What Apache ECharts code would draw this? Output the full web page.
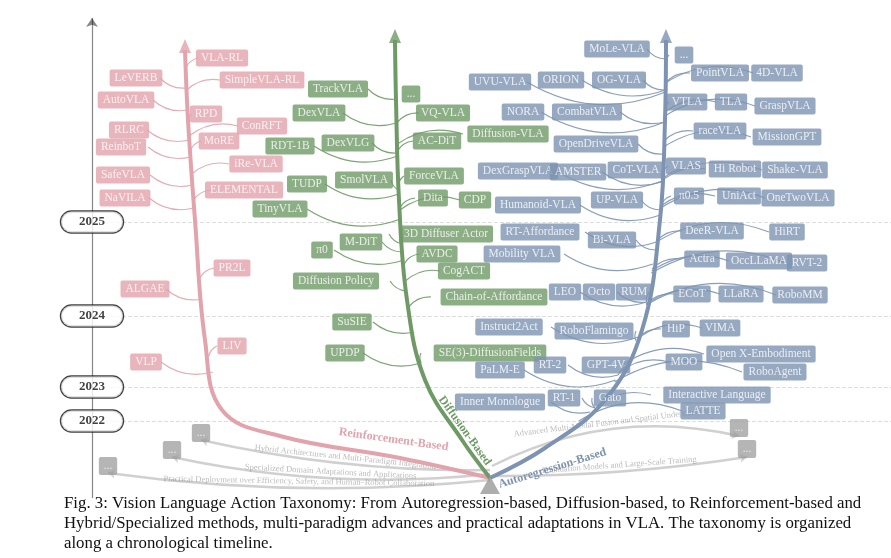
<!DOCTYPE html>
<html><head><meta charset="utf-8">
<script src="https://cdn.jsdelivr.net/npm/echarts@6/dist/echarts.min.js"></script>
<style>body{margin:0;background:#fff}#c{width:891px;height:558px}</style>
</head><body><div id="c"></div>
<script>
// boxes: [name, x, y]
var rlBoxes = [['VLA-RL',222,58],['LeVERB',136,78],['SimpleVLA-RL',262,80],['AutoVLA',126,100],['RPD',206,114],
  ['RLRC',129,130],['ConRFT',262,126],['MoRE',219,141],['ReinboT',121,147],['iRe-VLA',256,164],['SafeVLA',123,175],
  ['NaVILA',125,198],['ELEMENTAL',244,190],['PR2L',232,268],['ALGAE',145,289],['VLP',146,362],['LIV',232,346]];
var diffBoxes = [['TrackVLA',338,89],['DexVLA',319,113],['RDT-1B',290,146],['DexVLG',348,143],['TUDP',307,184],
  ['SmolVLA',364,180],['TinyVLA',280,209],['...',411,94],['VQ-VLA',443,113],['AC-DiT',437,141],['Diffusion-VLA',508,134],
  ['ForceVLA',434,176],['Dita',433,198],['CDP',475,200],['3D Diffuser Actor',446,234],['M-DiT',361,242],['π0',322,250],
  ['AVDC',437,254],['Diffusion Policy',336,281],['CogACT',464,271],['Chain-of-Affordance',494,297],['SuSIE',352,322],
  ['UPDP',345,353],['SE(3)-DiffusionFields',490,353]];
var arBoxes = [['MoLe-VLA',617,49],['...',684,55],['UVU-VLA',500,82],['ORION',561,80],['OG-VLA',619,80],['PointVLA',720,73],
  ['4D-VLA',777,73],['NORA',523,112],['CombatVLA',587,112],['VTLA',687,102],['TLA',731,102],['GraspVLA',785,106],
  ['OpenDriveVLA',596,144],['raceVLA',720,131],['MissionGPT',787,137],['DexGraspVLA',518,171],['AMSTER',578,172],
  ['CoT-VLA',636,170],['VLAS',686,166],['Hi Robot',735,169],['Shake-VLA',795,170],['Humanoid-VLA',538,205],['UP-VLA',617,200],
  ['π0.5',689,196],['UniAct',739,196],['OneTwoVLA',798,198],['RT-Affordance',540,232],['Bi-VLA',612,240],['DeeR-VLA',712,231],
  ['HiRT',787,232],['Mobility VLA',522,254],['Actra',702,259],['OccLLaMA',759,261],['RVT-2',807,263],['LEO',565,292],
  ['Octo',599,292],['RUM',634,292],['ECoT',692,294],['LLaRA',741,294],['RoboMM',800,295],['Instruct2Act',509,327],
  ['RoboFlamingo',594,331],['HiP',676,329],['VIMA',720,328],['MOO',684,362],['Open X-Embodiment',761,354],['RoboAgent',775,372],
  ['PaLM-E',500,370],['RT-2',550,365],['GPT-4V',606,365],['Inner Monologue',500,402],['RT-1',564,398],['Gato',610,398],
  ['Interactive Language',717,395],['LATTE',703,411]];
var grayBoxes = [[201,433],[172,450],[108,466],[739,428],[747,449]];
var years = [['2025',222],['2024',316],['2023',387],['2022',421]];
// trunk paths
var rlTrunk = [[490,478],[400,458],[280,436],[222,410],[205,340],[195,220],[188,120],[185,50]];
var diffTrunk = [[490,478],[462,440],[425,380],[407,300],[399,200],[396,100],[395,40]];
var arTrunk = [[490,478],[545,448],[605,400],[642,330],[660,220],[665,120],[666,40]];
var grayPaths = [
  ['Hybrid Architectures and Multi-Paradigm Integration',[490,470],[201,440],0.06],
  ['Specialized Domain Adaptations and Applications',[490,474],[172,457],0.08],
  ['Practical Deployment over Efficiency, Safety, and Human–Robot Collaboration',[490,480],[108,473],0.06],
  ['Advanced Multi-Modal Fusion and Spatial Understanding',[492,466],[739,436],0.18],
  ['Foundation Models and Large-Scale Training',[492,476],[747,457],-0.04]];

var RL = '#e2a3ad', DF = '#6f9a66', AR = '#7d93b1', GR = '#a2a2a2';

function trunkX(path, y) {
  for (var i = 0; i < path.length - 1; i++) {
    var a = path[i], b = path[i+1];
    if (y <= a[1] && y >= b[1]) return a[0] + (b[0]-a[0]) * (a[1]-y) / (a[1]-b[1]);
  }
  return path[path.length-1][0];
}
function boxSeries(list, color) {
  return {type:'scatter', symbolSize:0, z:5, data:list.map(function(b){return {value:[b[1],b[2]], name:b[0]};}),
    label:{show:true, formatter:'{b}', color:'#fff', fontFamily:'Liberation Serif', fontSize:11.5,
      backgroundColor:color, padding:[3,5,2,5], borderRadius:2}};
}
function branchSeries(list, path, color) {
  var d = list.map(function(b){
    var tx = trunkX(path, b[2] + 10), hw = b[0].length * 3 + 6;
    var ex = b[1] < tx ? b[1] + hw : b[1] - hw;
    return {coords:[[tx, b[2] + 10],[ex, b[2]]]};
  });
  return {type:'lines', coordinateSystem:'cartesian2d', z:2, data:d,
    lineStyle:{color:color, width:1.2, curveness:0.25, opacity:0.9}};
}
function trunk(path, color) {
  return {type:'line', smooth:0.4, symbol:'none', data:path, z:3, lineStyle:{color:color, width:4}};
}
function arrowHead(path, color) {
  var p = path[path.length-1];
  return {type:'scatter', symbol:'triangle', symbolSize:[12,14], z:4, data:[[p[0], p[1]-4]], itemStyle:{color:color}};
}

var series = [
  {type:'lines', coordinateSystem:'cartesian2d', z:1,
    data:years.map(function(y){return {coords:[[92,y[1]],[891,y[1]]]};}),
    lineStyle:{color:'#bbb', type:'dashed', width:1}},
  {type:'lines', coordinateSystem:'cartesian2d', z:1, symbol:['none','arrow'], symbolSize:9,
    data:[{coords:[[92,498],[92,18]]}], lineStyle:{color:'#111', width:1.2}},
  {type:'scatter', symbolSize:0, z:6, data:years.map(function(y){return {value:[92,y[1]], name:y[0]};}),
    label:{show:true, formatter:'{b}', color:'#111', fontWeight:'bold', fontFamily:'Liberation Serif', fontSize:13,
      backgroundColor:'#fff', borderColor:'#111', borderWidth:1.2, borderRadius:11, padding:[4,18,4,18]}},
  {type:'lines', coordinateSystem:'cartesian2d', z:2, symbol:['none','arrow'], symbolSize:7,
    data:grayPaths.map(function(g){return {coords:[g[1],g[2]], name:g[0], lineStyle:{curveness:g[3]}};}),
    lineStyle:{color:GR, width:2.5},
    label:{show:true, position:'middle', formatter:'{b}', color:'#777', fontSize:8.5, fontFamily:'Liberation Serif', distance:2}},
  {type:'scatter', symbolSize:0, z:5, data:grayBoxes.map(function(g){return {value:g, name:'...'};}),
    label:{show:true, formatter:'{b}', color:'#fff', fontSize:10, backgroundColor:GR, padding:[3,5,5,5], borderRadius:2}},
  trunk(rlTrunk, RL), trunk(diffTrunk, DF), trunk(arTrunk, AR),
  arrowHead(rlTrunk, RL), arrowHead(diffTrunk, DF), arrowHead(arTrunk, AR),
  branchSeries(rlBoxes, rlTrunk, RL), branchSeries(diffBoxes, diffTrunk, DF), branchSeries(arBoxes, arTrunk, AR),
  boxSeries(rlBoxes, RL), boxSeries(diffBoxes, DF), boxSeries(arBoxes, AR),
  {type:'scatter', symbol:'triangle', symbolSize:[20,18], z:6, data:[[490,485]], itemStyle:{color:'#999'}}
];

var chart = echarts.init(document.getElementById('c'));
chart.setOption({
  animation:false,
  grid:{left:0, right:0, top:0, bottom:0},
  xAxis:{type:'value', min:0, max:891, show:false},
  yAxis:{type:'value', min:0, max:558, inverse:true, show:false},
  series:series,
  graphic:[
    {type:'text', left:338, top:426, rotation:-0.14, style:{text:'Reinforcement-Based', fill:RL, font:'bold 12px Liberation Serif'}},
    {type:'text', left:436, top:394, rotation:-0.95, style:{text:'Diffusion-Based', fill:DF, font:'bold 12px Liberation Serif'}},
    {type:'text', left:497, top:446, rotation:0.3, style:{text:'Autoregression-Based', fill:AR, font:'bold 12px Liberation Serif'}},
    {type:'text', left:64, top:494, style:{text:'Fig. 3: Vision Language Action Taxonomy: From Autoregression-based, Diffusion-based, to Reinforcement-based and\nHybrid/Specialized methods, multi-paradigm advances and practical adaptations in VLA. The taxonomy is organized\nalong a chronological timeline.',
      fill:'#111', font:'16.8px Liberation Serif', lineHeight:20}}
  ]
});
</script></body></html>
